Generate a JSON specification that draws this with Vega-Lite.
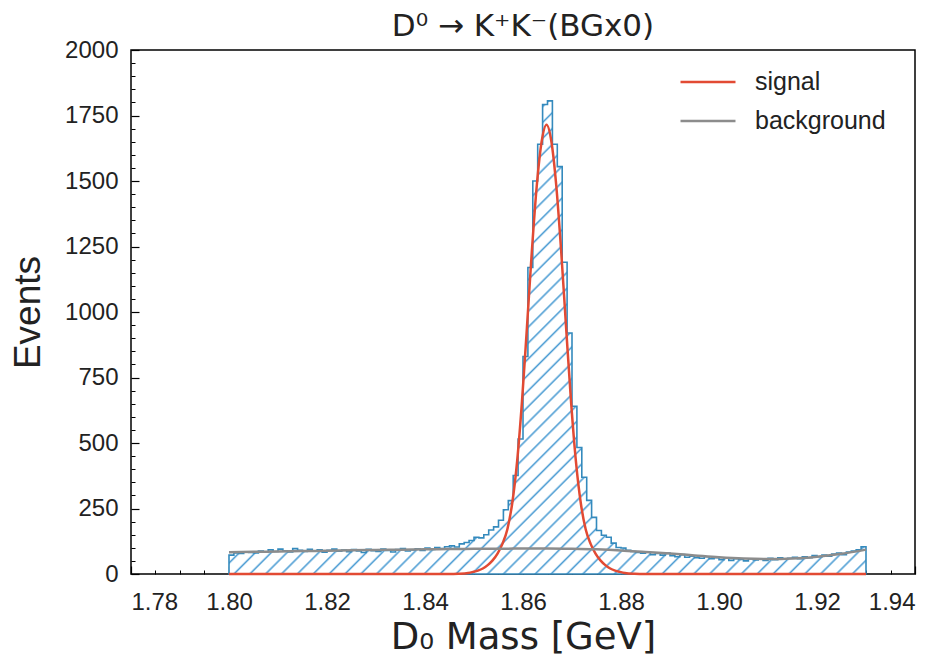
{
  "$schema": "https://vega.github.io/schema/vega-lite/v6.json",
  "width": 784,
  "height": 524,
  "autosize": {"type": "none"},
  "padding": {"left": 131, "top": 50, "right": 30, "bottom": 95},
  "background": "white",
  "config": {
    "view": {"stroke": "black", "strokeWidth": 1.5},
    "axis": {"grid": false, "labelFont": "Liberation Sans", "labelFontSize": 24, "labelColor": "#222", "tickColor": "black", "domain": false, "titleColor": "#222", "titleFontWeight": "normal"}
  },
  "title": {"text": "D⁰ → K⁺K⁻(BGx0)", "font": "DejaVu Sans", "fontSize": 31, "fontWeight": "normal", "color": "#222", "offset": -5},
  "datasets": {
    "hist": [
      {"lo":1.800,"hi":1.801,"n":72},{"lo":1.801,"hi":1.802,"n":80},{"lo":1.802,"hi":1.803,"n":78},{"lo":1.803,"hi":1.804,"n":85},{"lo":1.804,"hi":1.805,"n":82},
      {"lo":1.805,"hi":1.806,"n":80},{"lo":1.806,"hi":1.807,"n":88},{"lo":1.807,"hi":1.808,"n":84},{"lo":1.808,"hi":1.809,"n":92},{"lo":1.809,"hi":1.810,"n":86},
      {"lo":1.810,"hi":1.811,"n":95},{"lo":1.811,"hi":1.812,"n":89},{"lo":1.812,"hi":1.813,"n":84},{"lo":1.813,"hi":1.814,"n":97},{"lo":1.814,"hi":1.815,"n":90},
      {"lo":1.815,"hi":1.816,"n":86},{"lo":1.816,"hi":1.817,"n":94},{"lo":1.817,"hi":1.818,"n":88},{"lo":1.818,"hi":1.819,"n":92},{"lo":1.819,"hi":1.820,"n":83},
      {"lo":1.820,"hi":1.821,"n":90},{"lo":1.821,"hi":1.822,"n":95},{"lo":1.822,"hi":1.823,"n":87},{"lo":1.823,"hi":1.824,"n":91},{"lo":1.824,"hi":1.825,"n":85},
      {"lo":1.825,"hi":1.826,"n":93},{"lo":1.826,"hi":1.827,"n":88},{"lo":1.827,"hi":1.828,"n":82},{"lo":1.828,"hi":1.829,"n":94},{"lo":1.829,"hi":1.830,"n":89},
      {"lo":1.830,"hi":1.831,"n":86},{"lo":1.831,"hi":1.832,"n":95},{"lo":1.832,"hi":1.833,"n":90},{"lo":1.833,"hi":1.834,"n":84},{"lo":1.834,"hi":1.835,"n":93},
      {"lo":1.835,"hi":1.836,"n":97},{"lo":1.836,"hi":1.837,"n":88},{"lo":1.837,"hi":1.838,"n":92},{"lo":1.838,"hi":1.839,"n":96},{"lo":1.839,"hi":1.840,"n":90},
      {"lo":1.840,"hi":1.841,"n":99},{"lo":1.841,"hi":1.842,"n":94},{"lo":1.842,"hi":1.843,"n":101},{"lo":1.843,"hi":1.844,"n":97},{"lo":1.844,"hi":1.845,"n":104},
      {"lo":1.845,"hi":1.846,"n":108},{"lo":1.846,"hi":1.847,"n":103},{"lo":1.847,"hi":1.848,"n":115},{"lo":1.848,"hi":1.849,"n":120},{"lo":1.849,"hi":1.850,"n":128},
      {"lo":1.850,"hi":1.851,"n":140},{"lo":1.851,"hi":1.852,"n":138},{"lo":1.852,"hi":1.853,"n":150},{"lo":1.853,"hi":1.854,"n":168},{"lo":1.854,"hi":1.855,"n":180},
      {"lo":1.855,"hi":1.856,"n":205},{"lo":1.856,"hi":1.857,"n":245},{"lo":1.857,"hi":1.858,"n":280},{"lo":1.858,"hi":1.859,"n":376},{"lo":1.859,"hi":1.860,"n":515},
      {"lo":1.860,"hi":1.861,"n":830},{"lo":1.861,"hi":1.862,"n":1170},{"lo":1.862,"hi":1.863,"n":1500},{"lo":1.863,"hi":1.864,"n":1640},{"lo":1.864,"hi":1.865,"n":1792},
      {"lo":1.865,"hi":1.866,"n":1806},{"lo":1.866,"hi":1.867,"n":1640},{"lo":1.867,"hi":1.868,"n":1555},{"lo":1.868,"hi":1.869,"n":1190},{"lo":1.869,"hi":1.870,"n":920},
      {"lo":1.870,"hi":1.871,"n":640},{"lo":1.871,"hi":1.872,"n":483},{"lo":1.872,"hi":1.873,"n":369},{"lo":1.873,"hi":1.874,"n":281},{"lo":1.874,"hi":1.875,"n":216},
      {"lo":1.875,"hi":1.876,"n":166},{"lo":1.876,"hi":1.877,"n":148},{"lo":1.877,"hi":1.878,"n":140},{"lo":1.878,"hi":1.879,"n":118},{"lo":1.879,"hi":1.880,"n":101},
      {"lo":1.880,"hi":1.881,"n":99},{"lo":1.881,"hi":1.882,"n":90},{"lo":1.882,"hi":1.883,"n":86},{"lo":1.883,"hi":1.884,"n":82},{"lo":1.884,"hi":1.885,"n":79},
      {"lo":1.885,"hi":1.886,"n":83},{"lo":1.886,"hi":1.887,"n":74},{"lo":1.887,"hi":1.888,"n":78},{"lo":1.888,"hi":1.889,"n":72},{"lo":1.889,"hi":1.890,"n":80},
      {"lo":1.890,"hi":1.891,"n":70},{"lo":1.891,"hi":1.892,"n":66},{"lo":1.892,"hi":1.893,"n":74},{"lo":1.893,"hi":1.894,"n":64},{"lo":1.894,"hi":1.895,"n":68},
      {"lo":1.895,"hi":1.896,"n":62},{"lo":1.896,"hi":1.897,"n":60},{"lo":1.897,"hi":1.898,"n":66},{"lo":1.898,"hi":1.899,"n":58},{"lo":1.899,"hi":1.900,"n":62},
      {"lo":1.900,"hi":1.901,"n":55},{"lo":1.901,"hi":1.902,"n":60},{"lo":1.902,"hi":1.903,"n":52},{"lo":1.903,"hi":1.904,"n":58},{"lo":1.904,"hi":1.905,"n":56},
      {"lo":1.905,"hi":1.906,"n":50},{"lo":1.906,"hi":1.907,"n":58},{"lo":1.907,"hi":1.908,"n":54},{"lo":1.908,"hi":1.909,"n":57},{"lo":1.909,"hi":1.910,"n":52},
      {"lo":1.910,"hi":1.911,"n":60},{"lo":1.911,"hi":1.912,"n":55},{"lo":1.912,"hi":1.913,"n":62},{"lo":1.913,"hi":1.914,"n":58},{"lo":1.914,"hi":1.915,"n":60},
      {"lo":1.915,"hi":1.916,"n":64},{"lo":1.916,"hi":1.917,"n":58},{"lo":1.917,"hi":1.918,"n":66},{"lo":1.918,"hi":1.919,"n":62},{"lo":1.919,"hi":1.920,"n":70},
      {"lo":1.920,"hi":1.921,"n":66},{"lo":1.921,"hi":1.922,"n":72},{"lo":1.922,"hi":1.923,"n":68},{"lo":1.923,"hi":1.924,"n":76},{"lo":1.924,"hi":1.925,"n":80},
      {"lo":1.925,"hi":1.926,"n":74},{"lo":1.926,"hi":1.927,"n":84},{"lo":1.927,"hi":1.928,"n":88},{"lo":1.928,"hi":1.929,"n":92},{"lo":1.929,"hi":1.930,"n":104}
    ],
    "curves": [
      {"x":1.800,"y":0,"curve":"signal"},{"x":1.820,"y":0,"curve":"signal"},{"x":1.840,"y":0,"curve":"signal"},{"x":1.8448,"y":0,"curve":"signal"},
      {"x":1.8468,"y":1,"curve":"signal"},{"x":1.8488,"y":4,"curve":"signal"},{"x":1.8498,"y":8,"curve":"signal"},{"x":1.8508,"y":13,"curve":"signal"},
      {"x":1.8518,"y":21,"curve":"signal"},{"x":1.8528,"y":34,"curve":"signal"},{"x":1.8538,"y":52,"curve":"signal"},{"x":1.8548,"y":78,"curve":"signal"},
      {"x":1.8558,"y":115,"curve":"signal"},{"x":1.8568,"y":170,"curve":"signal"},{"x":1.8578,"y":270,"curve":"signal"},{"x":1.8588,"y":430,"curve":"signal"},
      {"x":1.8598,"y":660,"curve":"signal"},{"x":1.8608,"y":940,"curve":"signal"},{"x":1.8618,"y":1230,"curve":"signal"},{"x":1.8628,"y":1480,"curve":"signal"},
      {"x":1.8638,"y":1650,"curve":"signal"},{"x":1.8648,"y":1715,"curve":"signal"},{"x":1.8658,"y":1650,"curve":"signal"},{"x":1.8668,"y":1480,"curve":"signal"},
      {"x":1.8678,"y":1230,"curve":"signal"},{"x":1.8688,"y":940,"curve":"signal"},{"x":1.8698,"y":660,"curve":"signal"},{"x":1.8708,"y":430,"curve":"signal"},
      {"x":1.8718,"y":270,"curve":"signal"},{"x":1.8728,"y":170,"curve":"signal"},{"x":1.8738,"y":115,"curve":"signal"},{"x":1.8748,"y":78,"curve":"signal"},
      {"x":1.8758,"y":52,"curve":"signal"},{"x":1.8768,"y":34,"curve":"signal"},{"x":1.8778,"y":21,"curve":"signal"},{"x":1.8788,"y":13,"curve":"signal"},
      {"x":1.8798,"y":8,"curve":"signal"},{"x":1.8808,"y":4,"curve":"signal"},{"x":1.8828,"y":1,"curve":"signal"},{"x":1.8848,"y":0,"curve":"signal"},
      {"x":1.900,"y":0,"curve":"signal"},{"x":1.930,"y":0,"curve":"signal"},
      {"x":1.800,"y":83,"curve":"background"},{"x":1.805,"y":84.5,"curve":"background"},{"x":1.810,"y":86,"curve":"background"},{"x":1.815,"y":87.5,"curve":"background"},
      {"x":1.820,"y":89,"curve":"background"},{"x":1.825,"y":90.5,"curve":"background"},{"x":1.830,"y":92,"curve":"background"},{"x":1.835,"y":93,"curve":"background"},
      {"x":1.840,"y":94,"curve":"background"},{"x":1.845,"y":95,"curve":"background"},{"x":1.850,"y":96,"curve":"background"},{"x":1.855,"y":96.5,"curve":"background"},
      {"x":1.860,"y":97,"curve":"background"},{"x":1.865,"y":97,"curve":"background"},{"x":1.870,"y":96,"curve":"background"},{"x":1.875,"y":94,"curve":"background"},
      {"x":1.880,"y":90,"curve":"background"},{"x":1.885,"y":84,"curve":"background"},{"x":1.890,"y":78,"curve":"background"},{"x":1.895,"y":71,"curve":"background"},
      {"x":1.900,"y":64,"curve":"background"},{"x":1.905,"y":59,"curve":"background"},{"x":1.910,"y":57,"curve":"background"},{"x":1.915,"y":59,"curve":"background"},
      {"x":1.920,"y":66,"curve":"background"},{"x":1.925,"y":77,"curve":"background"},{"x":1.930,"y":93,"curve":"background"}
    ]
  },
  "layer": [
    {
      "data": {"name": "hist"},
      "transform": [{"fold": ["lo", "hi"], "as": ["edge", "x"]}],
      "mark": {
        "type": "area",
        "interpolate": "linear",
        "stroke": "#348ABD",
        "strokeWidth": 1.6,
        "fill": {
          "gradient": "linear", "x1": 0, "y1": 0, "x2": 1.1232, "y2": 0.834,
          "stops": [
            {"offset":0,"color":"#fff"},{"offset":0.002,"color":"#4b9cd3"},{"offset":0.004,"color":"#fff"},
            {"offset":0.0143,"color":"#fff"},{"offset":0.0163,"color":"#4b9cd3"},{"offset":0.0183,"color":"#fff"},
            {"offset":0.0286,"color":"#fff"},{"offset":0.0306,"color":"#4b9cd3"},{"offset":0.0326,"color":"#fff"},
            {"offset":0.0429,"color":"#fff"},{"offset":0.0449,"color":"#4b9cd3"},{"offset":0.0469,"color":"#fff"},
            {"offset":0.0571,"color":"#fff"},{"offset":0.0591,"color":"#4b9cd3"},{"offset":0.0611,"color":"#fff"},
            {"offset":0.0714,"color":"#fff"},{"offset":0.0734,"color":"#4b9cd3"},{"offset":0.0754,"color":"#fff"},
            {"offset":0.0857,"color":"#fff"},{"offset":0.0877,"color":"#4b9cd3"},{"offset":0.0897,"color":"#fff"},
            {"offset":0.1,"color":"#fff"},{"offset":0.102,"color":"#4b9cd3"},{"offset":0.104,"color":"#fff"},
            {"offset":0.1143,"color":"#fff"},{"offset":0.1163,"color":"#4b9cd3"},{"offset":0.1183,"color":"#fff"},
            {"offset":0.1286,"color":"#fff"},{"offset":0.1306,"color":"#4b9cd3"},{"offset":0.1326,"color":"#fff"},
            {"offset":0.1429,"color":"#fff"},{"offset":0.1449,"color":"#4b9cd3"},{"offset":0.1469,"color":"#fff"},
            {"offset":0.1571,"color":"#fff"},{"offset":0.1591,"color":"#4b9cd3"},{"offset":0.1611,"color":"#fff"},
            {"offset":0.1714,"color":"#fff"},{"offset":0.1734,"color":"#4b9cd3"},{"offset":0.1754,"color":"#fff"},
            {"offset":0.1857,"color":"#fff"},{"offset":0.1877,"color":"#4b9cd3"},{"offset":0.1897,"color":"#fff"},
            {"offset":0.2,"color":"#fff"},{"offset":0.202,"color":"#4b9cd3"},{"offset":0.204,"color":"#fff"},
            {"offset":0.2143,"color":"#fff"},{"offset":0.2163,"color":"#4b9cd3"},{"offset":0.2183,"color":"#fff"},
            {"offset":0.2286,"color":"#fff"},{"offset":0.2306,"color":"#4b9cd3"},{"offset":0.2326,"color":"#fff"},
            {"offset":0.2429,"color":"#fff"},{"offset":0.2449,"color":"#4b9cd3"},{"offset":0.2469,"color":"#fff"},
            {"offset":0.2571,"color":"#fff"},{"offset":0.2591,"color":"#4b9cd3"},{"offset":0.2611,"color":"#fff"},
            {"offset":0.2714,"color":"#fff"},{"offset":0.2734,"color":"#4b9cd3"},{"offset":0.2754,"color":"#fff"},
            {"offset":0.2857,"color":"#fff"},{"offset":0.2877,"color":"#4b9cd3"},{"offset":0.2897,"color":"#fff"},
            {"offset":0.3,"color":"#fff"},{"offset":0.302,"color":"#4b9cd3"},{"offset":0.304,"color":"#fff"},
            {"offset":0.3143,"color":"#fff"},{"offset":0.3163,"color":"#4b9cd3"},{"offset":0.3183,"color":"#fff"},
            {"offset":0.3286,"color":"#fff"},{"offset":0.3306,"color":"#4b9cd3"},{"offset":0.3326,"color":"#fff"},
            {"offset":0.3429,"color":"#fff"},{"offset":0.3449,"color":"#4b9cd3"},{"offset":0.3469,"color":"#fff"},
            {"offset":0.3571,"color":"#fff"},{"offset":0.3591,"color":"#4b9cd3"},{"offset":0.3611,"color":"#fff"},
            {"offset":0.3714,"color":"#fff"},{"offset":0.3734,"color":"#4b9cd3"},{"offset":0.3754,"color":"#fff"},
            {"offset":0.3857,"color":"#fff"},{"offset":0.3877,"color":"#4b9cd3"},{"offset":0.3897,"color":"#fff"},
            {"offset":0.4,"color":"#fff"},{"offset":0.402,"color":"#4b9cd3"},{"offset":0.404,"color":"#fff"},
            {"offset":0.4143,"color":"#fff"},{"offset":0.4163,"color":"#4b9cd3"},{"offset":0.4183,"color":"#fff"},
            {"offset":0.4286,"color":"#fff"},{"offset":0.4306,"color":"#4b9cd3"},{"offset":0.4326,"color":"#fff"},
            {"offset":0.4429,"color":"#fff"},{"offset":0.4449,"color":"#4b9cd3"},{"offset":0.4469,"color":"#fff"},
            {"offset":0.4571,"color":"#fff"},{"offset":0.4591,"color":"#4b9cd3"},{"offset":0.4611,"color":"#fff"},
            {"offset":0.4714,"color":"#fff"},{"offset":0.4734,"color":"#4b9cd3"},{"offset":0.4754,"color":"#fff"},
            {"offset":0.4857,"color":"#fff"},{"offset":0.4877,"color":"#4b9cd3"},{"offset":0.4897,"color":"#fff"},
            {"offset":0.5,"color":"#fff"},{"offset":0.502,"color":"#4b9cd3"},{"offset":0.504,"color":"#fff"},
            {"offset":0.5143,"color":"#fff"},{"offset":0.5163,"color":"#4b9cd3"},{"offset":0.5183,"color":"#fff"},
            {"offset":0.5286,"color":"#fff"},{"offset":0.5306,"color":"#4b9cd3"},{"offset":0.5326,"color":"#fff"},
            {"offset":0.5429,"color":"#fff"},{"offset":0.5449,"color":"#4b9cd3"},{"offset":0.5469,"color":"#fff"},
            {"offset":0.5571,"color":"#fff"},{"offset":0.5591,"color":"#4b9cd3"},{"offset":0.5611,"color":"#fff"},
            {"offset":0.5714,"color":"#fff"},{"offset":0.5734,"color":"#4b9cd3"},{"offset":0.5754,"color":"#fff"},
            {"offset":0.5857,"color":"#fff"},{"offset":0.5877,"color":"#4b9cd3"},{"offset":0.5897,"color":"#fff"},
            {"offset":0.6,"color":"#fff"},{"offset":0.602,"color":"#4b9cd3"},{"offset":0.604,"color":"#fff"},
            {"offset":0.6143,"color":"#fff"},{"offset":0.6163,"color":"#4b9cd3"},{"offset":0.6183,"color":"#fff"},
            {"offset":0.6286,"color":"#fff"},{"offset":0.6306,"color":"#4b9cd3"},{"offset":0.6326,"color":"#fff"},
            {"offset":0.6429,"color":"#fff"},{"offset":0.6449,"color":"#4b9cd3"},{"offset":0.6469,"color":"#fff"},
            {"offset":0.6571,"color":"#fff"},{"offset":0.6591,"color":"#4b9cd3"},{"offset":0.6611,"color":"#fff"},
            {"offset":0.6714,"color":"#fff"},{"offset":0.6734,"color":"#4b9cd3"},{"offset":0.6754,"color":"#fff"},
            {"offset":0.6857,"color":"#fff"},{"offset":0.6877,"color":"#4b9cd3"},{"offset":0.6897,"color":"#fff"},
            {"offset":0.7,"color":"#fff"},{"offset":0.702,"color":"#4b9cd3"},{"offset":0.704,"color":"#fff"},
            {"offset":0.7143,"color":"#fff"},{"offset":0.7163,"color":"#4b9cd3"},{"offset":0.7183,"color":"#fff"},
            {"offset":0.7286,"color":"#fff"},{"offset":0.7306,"color":"#4b9cd3"},{"offset":0.7326,"color":"#fff"},
            {"offset":0.7429,"color":"#fff"},{"offset":0.7449,"color":"#4b9cd3"},{"offset":0.7469,"color":"#fff"},
            {"offset":0.7571,"color":"#fff"},{"offset":0.7591,"color":"#4b9cd3"},{"offset":0.7611,"color":"#fff"},
            {"offset":0.7714,"color":"#fff"},{"offset":0.7734,"color":"#4b9cd3"},{"offset":0.7754,"color":"#fff"},
            {"offset":0.7857,"color":"#fff"},{"offset":0.7877,"color":"#4b9cd3"},{"offset":0.7897,"color":"#fff"},
            {"offset":0.8,"color":"#fff"},{"offset":0.802,"color":"#4b9cd3"},{"offset":0.804,"color":"#fff"},
            {"offset":0.8143,"color":"#fff"},{"offset":0.8163,"color":"#4b9cd3"},{"offset":0.8183,"color":"#fff"},
            {"offset":0.8286,"color":"#fff"},{"offset":0.8306,"color":"#4b9cd3"},{"offset":0.8326,"color":"#fff"},
            {"offset":0.8429,"color":"#fff"},{"offset":0.8449,"color":"#4b9cd3"},{"offset":0.8469,"color":"#fff"},
            {"offset":0.8571,"color":"#fff"},{"offset":0.8591,"color":"#4b9cd3"},{"offset":0.8611,"color":"#fff"},
            {"offset":0.8714,"color":"#fff"},{"offset":0.8734,"color":"#4b9cd3"},{"offset":0.8754,"color":"#fff"},
            {"offset":0.8857,"color":"#fff"},{"offset":0.8877,"color":"#4b9cd3"},{"offset":0.8897,"color":"#fff"},
            {"offset":0.9,"color":"#fff"},{"offset":0.902,"color":"#4b9cd3"},{"offset":0.904,"color":"#fff"},
            {"offset":0.9143,"color":"#fff"},{"offset":0.9163,"color":"#4b9cd3"},{"offset":0.9183,"color":"#fff"},
            {"offset":0.9286,"color":"#fff"},{"offset":0.9306,"color":"#4b9cd3"},{"offset":0.9326,"color":"#fff"},
            {"offset":0.9429,"color":"#fff"},{"offset":0.9449,"color":"#4b9cd3"},{"offset":0.9469,"color":"#fff"},
            {"offset":0.9571,"color":"#fff"},{"offset":0.9591,"color":"#4b9cd3"},{"offset":0.9611,"color":"#fff"},
            {"offset":0.9714,"color":"#fff"},{"offset":0.9734,"color":"#4b9cd3"},{"offset":0.9754,"color":"#fff"},
            {"offset":0.9857,"color":"#fff"},{"offset":0.9877,"color":"#4b9cd3"},{"offset":0.9897,"color":"#fff"},
            {"offset":1,"color":"#fff"}
          ]
        }
      },
      "encoding": {
        "x": {"field": "x", "type": "quantitative", "scale": {"domain": [1.78, 1.94], "nice": false, "zero": false},
              "axis": {"orient": "bottom", "offset": -8, "values": [1.78,1.80,1.82,1.84,1.86,1.88,1.90,1.92,1.94], "format": ".2f", "tickSize": 8, "tickWidth": 1.2, "labelPadding": 16,
                       "title": "D₀ Mass [GeV]", "titleFont": "DejaVu Sans", "titleFontSize": 37, "titlePadding": 5}},
        "y": {"field": "n", "type": "quantitative", "stack": null, "scale": {"domain": [0, 2000], "nice": false},
              "axis": {"orient": "left", "offset": -8, "values": [0,250,500,750,1000,1250,1500,1750,2000], "format": "d", "tickSize": 8, "tickWidth": 1.2, "labelPadding": 13,
                       "title": "Events", "titleFont": "Liberation Sans", "titleFontSize": 37, "titlePadding": 17}}
      }
    },
    {
      "data": {"name": "curves"},
      "mark": {"type": "line", "strokeWidth": 2.5, "interpolate": "monotone"},
      "encoding": {
        "x": {"field": "x", "type": "quantitative",
              "axis": {"orient": "bottom", "offset": -4, "values": [1.785,1.79,1.795,1.805,1.81,1.815,1.825,1.83,1.835,1.845,1.85,1.855,1.865,1.87,1.875,1.885,1.89,1.895,1.905,1.91,1.915,1.925,1.93,1.935],
                       "labels": false, "title": null, "tickSize": 4, "tickWidth": 1}},
        "y": {"field": "y", "type": "quantitative",
              "axis": {"orient": "left", "offset": -4, "values": [50,100,150,200,300,350,400,450,550,600,650,700,800,850,900,950,1050,1100,1150,1200,1300,1350,1400,1450,1550,1600,1650,1700,1800,1850,1900,1950],
                       "labels": false, "title": null, "tickSize": 4, "tickWidth": 1}},
        "color": {"field": "curve", "type": "nominal",
                  "scale": {"domain": ["signal", "background"], "range": ["#E24A33", "#8c8c8c"]},
                  "legend": {"title": null, "orient": "none", "legendX": 562, "legendY": 17, "symbolType": "M-2,0H2", "symbolSize": 756, "symbolStrokeWidth": 2.5,
                             "labelFont": "Liberation Sans", "labelFontSize": 25, "labelColor": "#222", "labelOffset": 32, "rowPadding": 11}}
      }
    }
  ],
  "resolve": {"axis": {"x": "independent", "y": "independent"}}
}
